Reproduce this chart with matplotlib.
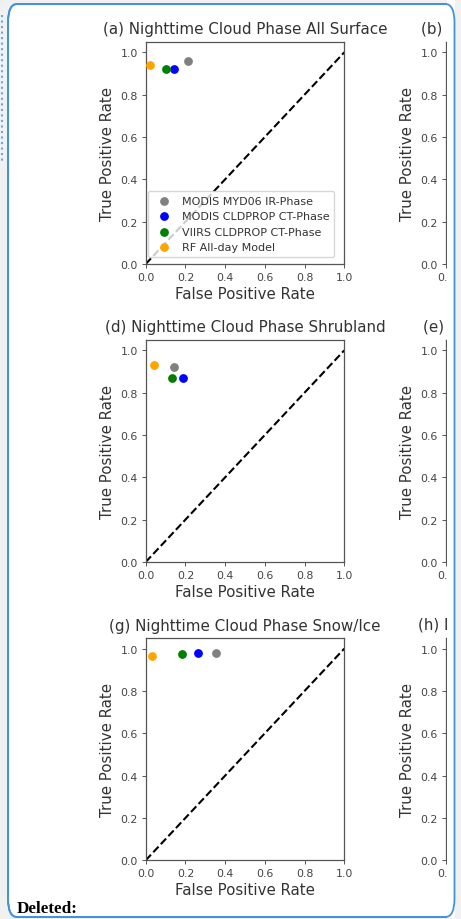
import matplotlib
matplotlib.use("Agg")
import matplotlib.pyplot as plt
from matplotlib.patches import FancyBboxPatch, Rectangle
from matplotlib.lines import Line2D

# ROC points (false positive rate, true positive rate) per product
products = ["MODIS MYD06 IR-Phase", "MODIS CLDPROP CT-Phase",
            "VIIRS CLDPROP CT-Phase", "RF All-day Model"]
colors = ["gray", "blue", "green", "orange"]

fpr_all = [0.215, 0.144, 0.102, 0.022]
tpr_all = [0.961, 0.923, 0.920, 0.942]

fpr_shrub = [0.141, 0.190, 0.133, 0.040]
tpr_shrub = [0.923, 0.871, 0.868, 0.931]

fpr_snow = [0.356, 0.262, 0.183, 0.030]
tpr_snow = [0.981, 0.980, 0.976, 0.967]

left_titles = ["(a) Nighttime Cloud Phase All Surface",
               "(d) Nighttime Cloud Phase Shrubland",
               "(g) Nighttime Cloud Phase Snow/Ice"]
right_titles = ["(b) Daytime Cloud Phase All Surface",
                "(e) Daytime Cloud Phase Shrubland",
                "(h) Daytime Cloud Phase Snow/Ice"]
right_title_x = [-0.122, -0.112, -0.139]

W, H = 461, 920
TXT = "#333333"
CUT = 447.0  # right edge of the visible part of the second column

plt.rcParams["font.family"] = "DejaVu Sans"
fig = plt.figure(figsize=(W / 100, H / 100), dpi=100, facecolor="#f1f1f1")


def px_box(x0, y0, x1, y1):
    # pixel rectangle (top-left origin) -> figure fraction [l, b, w, h]
    return [x0 / W, 1 - y1 / H, (x1 - x0) / W, (y1 - y0) / H]


def style_axes(ax):
    ax.set_xlim(0, 1.0)
    ax.set_ylim(0, 1.05)
    ax.set_xticks([0, 0.2, 0.4, 0.6, 0.8, 1.0])
    ax.set_yticks([0, 0.2, 0.4, 0.6, 0.8, 1.0])
    ax.tick_params(labelsize=7.9, colors="#555555", labelcolor="#444444",
                   length=2.8, width=0.7, pad=2.8)
    for sp in ax.spines.values():
        sp.set_color("#555555")
        sp.set_linewidth(0.9)
    ax.set_xlabel("False Positive Rate", fontsize=10.8, color=TXT, labelpad=3)
    ax.set_ylabel("True Positive Rate", fontsize=10.8, color=TXT, labelpad=4)


def card_patch(face, z):
    return FancyBboxPatch((8 / W, 1 - 918 / H), 446.5 / W, 913 / H,
                          boxstyle="round,pad=0,rounding_size=0.02",
                          transform=fig.transFigure, facecolor=face,
                          edgecolor="#3f93dc", linewidth=1.3, zorder=z)


# white card with blue border
fig.patches.append(card_patch("white", -5))
fig.lines.append(Line2D([1.5 / W, 1.5 / W], [1 - 16 / H, 1 - 165 / H],
                        transform=fig.transFigure, color="#6aa8e0",
                        linestyle=":", linewidth=1.5))

rows = [(fpr_all, tpr_all), (fpr_shrub, tpr_shrub), (fpr_snow, tpr_snow)]
tops = [42.7, 340.7, 639.0]

for i, (fpr, tpr) in enumerate(rows):
    top = tops[i]
    ax = fig.add_axes(px_box(145.7, top, 344.3, top + 222.3))
    ax.plot([0, 1], [0, 1], "k--", linewidth=1.5)
    for name, c, x, y in zip(products, colors, fpr, tpr):
        ax.scatter(x, y, s=28, color=c, label=name, zorder=3)
    style_axes(ax)
    ax.set_title(left_titles[i], fontsize=10.9, color=TXT, pad=6)
    if i == 0:
        leg = ax.legend(loc="lower left", bbox_to_anchor=(0.01, 0.03),
                        borderaxespad=0, fontsize=8.0, framealpha=0.8,
                        handletextpad=0.6, borderpad=0.45)
        for t in leg.get_texts():
            t.set_color(TXT)

    # second column, cut off at the card edge
    axr = fig.add_axes(px_box(445.7, top, 644.3, top + 222.3))
    axr.plot([0, 1], [0, 1], "k--", linewidth=1.5)
    style_axes(axr)
    axr.text(right_title_x[i], 1.0 + 8.5 / 222.3, right_titles[i],
             transform=axr.transAxes, ha="left", va="baseline",
             fontsize=10.9, color=TXT)

# mask everything past the visible strip
fig.patches.append(Rectangle((CUT / W, 0), 20 / W, 1, transform=fig.transFigure,
                             facecolor="white", edgecolor="none", zorder=10))
fig.patches.append(Rectangle((454.6 / W, 0), 10 / W, 1, transform=fig.transFigure,
                             facecolor="#f1f1f1", edgecolor="none", zorder=11))
fig.patches.append(card_patch("none", 12))
fig.patches.append(Rectangle((0, 0), 1, 1.5 / H, transform=fig.transFigure,
                             facecolor="#f1f1f1", edgecolor="none", zorder=11))

fig.text(17 / W, 1 - 913.5 / H, "Deleted:", fontsize=12.3, fontweight="bold",
         family="Liberation Serif", color="black", ha="left", va="baseline")

fig.savefig("out.png", dpi=100, facecolor=fig.get_facecolor())
